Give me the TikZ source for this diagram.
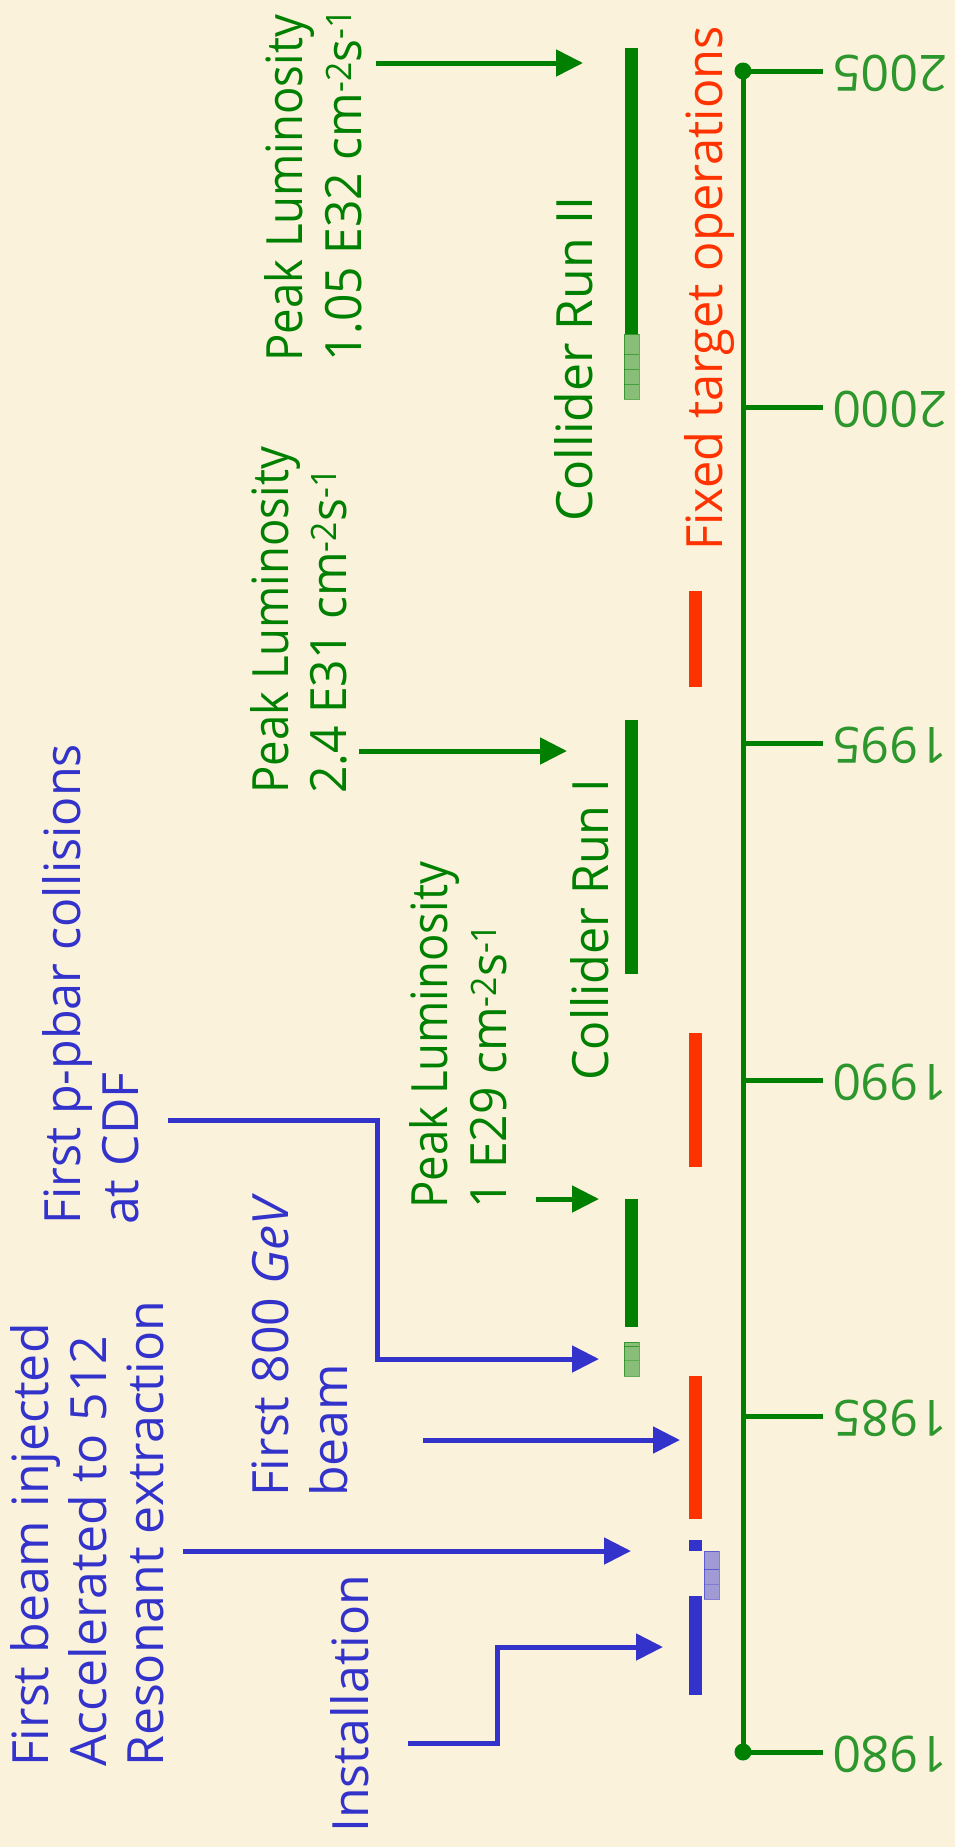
\documentclass[tikz,border=0pt]{standalone}
\usepackage{graphicx}
\usepackage{fontspec}
\setmainfont{Open Sans}
\usetikzlibrary{arrows.meta}
\definecolor{paper}{RGB}{251,242,219}
\definecolor{evblue}{RGB}{51,51,204}
\definecolor{evgreen}{RGB}{0,128,0}
\definecolor{yrgreen}{RGB}{45,150,45}
\definecolor{evred}{RGB}{255,51,0}
\newcommand{\lumunit}{cm\textsuperscript{-2}s\textsuperscript{-1}}
% horizontally condensed text
\newcommand{\narrow}[2]{\scalebox{#1}[1]{#2}}

\begin{document}
\begin{tikzpicture}[x=1pt,y=-1pt,
  lbl/.style={rotate=90, anchor=base west, inner sep=0pt,
              font=\fontsize{50}{59}\selectfont},
  bluetxt/.style={lbl, text=evblue},
  greentxt/.style={lbl, text=evgreen},
  redtxt/.style={lbl, text=evred},
  yearlbl/.style={rotate=180, inner sep=0pt, text=yrgreen,
                  font=\fontsize{50}{59}\selectfont},
  axisline/.style={draw=evgreen, line width=5pt},
  dotmark/.style={circle, fill=evgreen, inner sep=0pt, minimum size=17pt},
  barbox/.style={rectangle, inner sep=0pt, minimum width=13pt},
  bluebar/.style={barbox, fill=evblue},
  redbar/.style={barbox, fill=evred},
  greenbar/.style={barbox, fill=evgreen},
  pale/.style={rectangle, inner sep=0pt, minimum width=15pt,
               fill opacity=0.45, draw opacity=0.6, line width=0.8pt},
  conn/.style={line width=5pt, -{Triangle[length=27pt,width=26pt]}},
  bluearrow/.style={conn, draw=evblue},
  greenarrow/.style={conn, draw=evgreen}]

% paper
\fill[paper] (0,0) rectangle (955,1847);
\useasboundingbox (0,0) rectangle (955,1847);

% time axis with year ticks
\node[dotmark] (d1980) at (743,1752) {};
\node[dotmark] (d2005) at (743,71) {};
\draw[axisline] (d1980.center) -- (d2005.center);
\foreach \yr/\yy in {1980/1752,1985/1416,1990/1080,1995/743,2000/407,2005/71}{
  \coordinate (ax\yr) at (743,\yy);
  \coordinate (tk\yr) at (823,\yy);
  \draw[axisline] (ax\yr) -- (tk\yr);
  \node[yearlbl] (y\yr) at (890,\yy+2) {\yr};
}

% operating periods
\node[bluebar, minimum height=99pt] (install) at (695.5,1645.5) {};
\node[bluebar, minimum height=11pt] (firstinj) at (695.5,1545.5) {};
\node[pale, minimum height=48pt, fill=evblue, draw=evblue] (bluepale) at (711.5,1575) {};
\draw[evblue, line width=0.8pt, opacity=0.6] (bluepale.west |- 0,1569) -- (bluepale.east |- 0,1569);
\draw[evblue, line width=0.6pt, opacity=0.3] (bluepale.west |- 0,1584) -- (bluepale.east |- 0,1584);
\node[redbar, minimum height=143pt] (fix1) at (695.5,1447.5) {};
\node[pale, minimum height=34pt, fill=evgreen, draw=evgreen] (greenpale1) at (631.5,1359) {};
\draw[evgreen, line width=0.8pt, opacity=0.6] (greenpale1.west |- 0,1346) -- (greenpale1.east |- 0,1346);
\draw[evgreen, line width=0.6pt, opacity=0.3] (greenpale1.west |- 0,1360) -- (greenpale1.east |- 0,1360);
\node[greenbar, minimum height=128pt] (run0) at (631.5,1263) {};
\node[redbar, minimum height=134pt] (fix2) at (695.5,1100) {};
\node[greenbar, minimum height=254pt] (run1bar) at (631.5,847) {};
\node[redbar, minimum height=96pt] (fix3) at (695.5,639) {};
\node[greenbar, minimum height=286pt] (run2bar) at (631.5,191) {};
\node[pale, minimum height=65pt, fill=evgreen, draw=evgreen] (greenpale2) at (631.5,366.5) {};
\foreach \ly in {354,369,384}{
  \draw[evgreen, line width=0.6pt, opacity=0.5] (greenpale2.west |- 0,\ly) -- (greenpale2.east |- 0,\ly);
}

% blue labels
\node[bluetxt] (inj1) at (48,1767) {First beam injected};
\node[bluetxt] (inj2) at (106,1767) {Accelerated to 512};
\node[bluetxt] (inj3) at (163,1767) {Resonant extraction};
\node[bluetxt] (inst) at (368,1833) {Installation};
\node[bluetxt] (gev1) at (288,1497) {First 800 \textit{GeV}};
\node[bluetxt] (gev2) at (347,1497) {beam};
\node[bluetxt] (pp1) at (80,1225) {\narrow{0.97}{First p-pbar collisions}};
\node[bluetxt] (pp2) at (138,1225) {at CDF};

% green labels
\node[greentxt] (lum1a) at (447,1209) {\narrow{0.91}{Peak Luminosity}};
\node[greentxt] (lum1b) at (506,1209) {\narrow{0.96}{1 E29 \lumunit}};
\node[greentxt] (lum2a) at (288,794) {\narrow{0.91}{Peak Luminosity}};
\node[greentxt] (lum2b) at (346,794) {\narrow{0.96}{2.4 E31 \lumunit}};
\node[greentxt] (lum3a) at (302,362) {\narrow{0.91}{Peak Luminosity}};
\node[greentxt] (lum3b) at (361,362) {\narrow{0.96}{1.05 E32 \lumunit}};
\node[greentxt] (run1) at (608,1081) {\narrow{0.97}{Collider Run I}};
\node[greentxt] (run2) at (592,522) {Collider Run II};

% red label
\node[redtxt] (fixed) at (722,551) {\narrow{0.975}{Fixed target operations}};

% connector ends
\coordinate (instS) at (408,1743);
\coordinate (instT) at (663,1647);
\coordinate (resS) at (183,1551);
\coordinate (resT) at (631,1551);
\coordinate (gevS) at (423,1440);
\coordinate (gevT) at (680,1440);
\coordinate (ppS) at (168,1120);
\coordinate (ppT) at (599,1359);
\coordinate (l1S) at (536,1199);
\coordinate (l1T) at (599,1199);
\coordinate (l2S) at (359,751);
\coordinate (l2T) at (567,751);
\coordinate (l3S) at (376,63);
\coordinate (l3T) at (583,63);

% connectors
\draw[bluearrow] (instS) -- (497,1743) -- (497,1647) -- (instT);
\draw[bluearrow] (resS) -- (resT);
\draw[bluearrow] (gevS) -- (gevT);
\draw[bluearrow] (ppS) -- (377,1120) -- (377,1359) -- (ppT);
\draw[greenarrow] (l1S) -- (l1T);
\draw[greenarrow] (l2S) -- (l2T);
\draw[greenarrow] (l3S) -- (l3T);
\end{tikzpicture}
\end{document}
